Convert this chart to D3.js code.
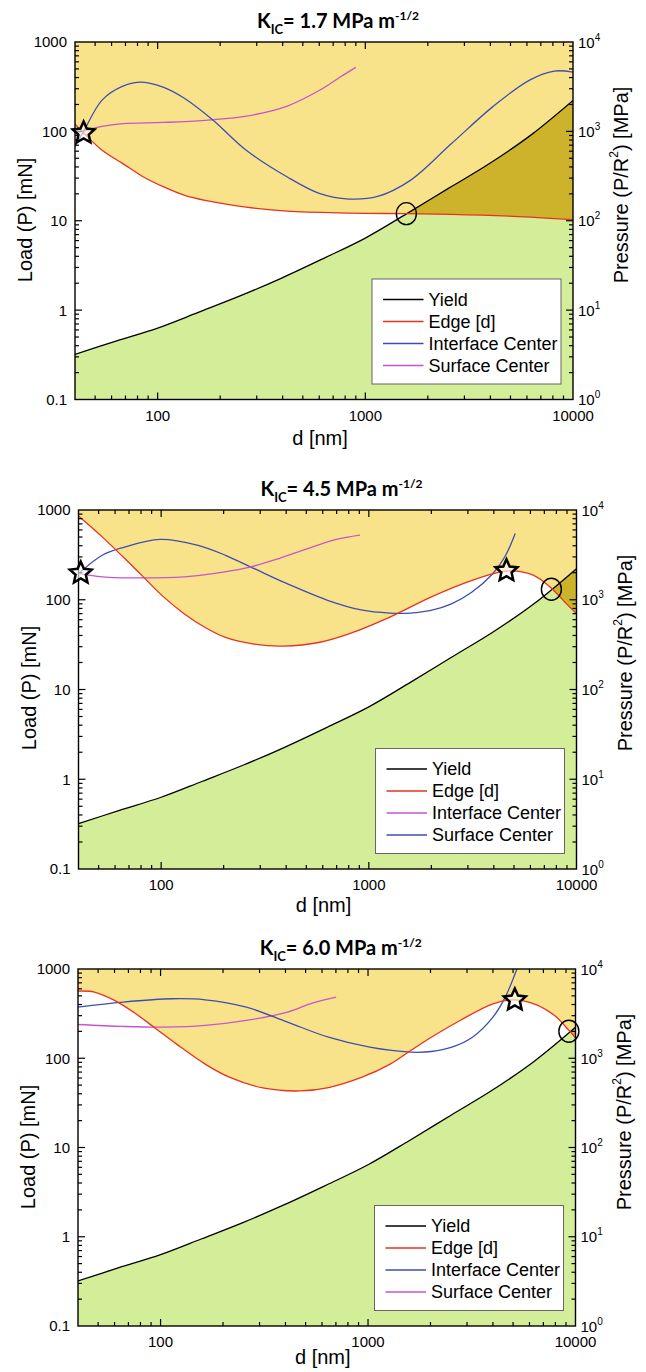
<!DOCTYPE html>
<html>
<head>
<meta charset="utf-8">
<script src="https://cdn.jsdelivr.net/npm/d3@7"></script>
<style>
  html, body { margin: 0; padding: 0; background: #fff; }
  svg { display: block; }
</style>
</head>
<body>
<svg id="chart" width="646" height="1372"></svg>
<script>
// ---- data -------------------------------------------------------------
const kicValues = ["1.7", "4.5", "6.0"];

// axis ticks
const loadTicks = [0.1, 1, 10, 100, 1000];
const loadTickLabels = ["0.1", "1", "10", "100", "1000"];
const pressureTicks = [1, 10, 100, 1000, 10000];
const pressureExponents = ["0", "1", "2", "3", "4"];
const dTicks = [100, 1000, 10000];
const dTickLabels = ["100", "1000", "10000"];

// yield load, identical in every panel
const yieldD = [40, 63, 100, 158, 251, 398, 631, 1000, 1585, 2512, 3981, 6310, 10000];
const yieldP = [0.32, 0.45, 0.63, 0.95, 1.45, 2.3, 3.8, 6.4, 12, 23, 44, 92, 222];

// K_IC = 1.7
const p1EdgeD = [40, 44, 54, 68, 85.5, 107, 135, 169, 267, 421, 833, 1576, 2600, 5140, 10000];
const p1EdgeP = [120, 96, 61.5, 43.6, 30.9, 23.9, 19.2, 16.9, 14.2, 12.8, 12.2, 12.0, 11.8, 11.2, 10.3];
const p1InterfaceD = [40, 44, 54, 68, 84, 107, 135, 185, 267, 421, 605, 833, 1146, 1648, 2600, 4100, 6180, 8110, 10000];
const p1InterfaceP = [68, 100, 224, 321, 356, 310, 233, 133, 61.5, 30.9, 20.1, 17.5, 18.7, 28.3, 73, 188, 375, 473, 461];
const p1SurfaceD = [40, 54, 68, 107, 169, 267, 421, 605, 760, 900];
const p1SurfaceP = [95, 114, 122, 126, 133, 148, 192, 290, 408, 520];
const p1StarD = [44];
const p1StarP = [96];
const p1CircleD = [1576];
const p1CircleP = [12];

// K_IC = 4.5
const p2EdgeD = [40, 52, 65.5, 82, 103, 129, 163, 204, 281, 387, 582, 801, 1263, 1991, 3140, 4320, 4960, 6220, 7460, 8950, 10000];
const p2EdgeP = [857, 502, 301, 180, 107, 70, 49, 38, 32, 30.5, 33.6, 41.6, 64, 107, 164, 204, 210, 187, 139, 90, 70];
const p2InterfaceD = [40.5, 52, 82, 129, 178, 257, 369, 508, 698, 906];
const p2InterfaceP = [196, 180, 175, 180, 195, 226, 288, 372, 470, 525];
const p2SurfaceD = [40.5, 52, 65.5, 99, 149, 204, 281, 404, 638, 919, 1263, 1585, 1991, 2500, 3140, 3950, 4520, 5070];
const p2SurfaceP = [200, 313, 382, 470, 406, 313, 222, 151, 98, 77, 71, 71, 76, 90, 122, 195, 301, 548];
const p2StarD = [41, 4600];
const p2StarP = [198, 210];
const p2CircleD = [7570];
const p2CircleP = [131];

// K_IC = 6.0
const p3EdgeD = [40, 48, 60, 76, 95, 119, 164, 216, 311, 469, 645, 929, 1279, 1607, 2018, 2778, 4000, 5020, 6310, 7930, 9300, 10000];
const p3EdgeP = [566, 552, 445, 315, 214, 145, 86, 61, 46.5, 43, 47, 61, 86, 122, 172, 265, 407, 452, 407, 301, 205, 169];
const p3InterfaceD = [40, 66, 114, 164, 259, 409, 645, 1019, 1607, 2018, 2535, 3185, 4000, 4585, 5260];
const p3InterfaceP = [374, 426, 464, 452, 374, 254, 172, 133, 117, 119, 133, 172, 289, 484, 1050];
const p3SurfaceD = [40, 66, 104, 164, 259, 409, 538, 702];
const p3SurfaceP = [239, 227, 223, 233, 265, 329, 415, 484];
const p3StarD = [5100];
const p3StarP = [450];
const p3CircleD = [9290];
const p3CircleP = [201];

// ---- styling ----------------------------------------------------------
const RED = "#e8321e";
const BLUE = "#3f4db3";
const MAGENTA = "#c654d0";
const YELLOW = "#f9e38a";
const GREEN = "#d3ed98";
const OLIVE = "#cdb22b";

// pick an installed Helvetica-style face by its metrics
function pickFont(candidates, sample, targetEm) {
  const ctx = document.createElement("canvas").getContext("2d");
  for (const f of candidates) {
    ctx.font = `100px "${f}", monospace`;
    const w = ctx.measureText(sample).width / 100;
    if (Math.abs(w - targetEm) < 0.08) return `"${f}"`;
  }
  return "sans-serif";
}
const SANS = pickFont(["Liberation Sans", "Arial", "Arimo", "Helvetica"], "Interface Center", 7.17);
const BOLD = `Lato, "Open Sans", sans-serif`;

const zip = (a, b) => a.map((v, i) => [v, b[i]]);

const panels = [
  { kic: kicValues[0], box: { l: 75, r: 573, t: 42, b: 399.5 }, xLabelGap: 45,
    edge: zip(p1EdgeD, p1EdgeP), iface: zip(p1InterfaceD, p1InterfaceP), surf: zip(p1SurfaceD, p1SurfaceP),
    ifaceColor: BLUE, surfColor: MAGENTA,
    stars: zip(p1StarD, p1StarP), circles: zip(p1CircleD, p1CircleP) },
  { kic: kicValues[1], box: { l: 78.5, r: 576.5, t: 510, b: 869 }, xLabelGap: 43,
    edge: zip(p2EdgeD, p2EdgeP), iface: zip(p2InterfaceD, p2InterfaceP), surf: zip(p2SurfaceD, p2SurfaceP),
    ifaceColor: MAGENTA, surfColor: BLUE,
    stars: zip(p2StarD, p2StarP), circles: zip(p2CircleD, p2CircleP) },
  { kic: kicValues[2], box: { l: 78, r: 575.5, t: 969, b: 1326 }, xLabelGap: 38,
    edge: zip(p3EdgeD, p3EdgeP), iface: zip(p3InterfaceD, p3InterfaceP), surf: zip(p3SurfaceD, p3SurfaceP),
    ifaceColor: BLUE, surfColor: MAGENTA,
    stars: zip(p3StarD, p3StarP), circles: zip(p3CircleD, p3CircleP) }
];

const yieldPts = zip(yieldD, yieldP);
const svg = d3.select("#chart").style("font-family", SANS);
const smooth = d3.curveCatmullRom.alpha(0.5);

// five-pointed star outline centred on (0,0)
function starPath(R, ratio) {
  const pts = [];
  for (let k = 0; k < 10; k++) {
    const r = k % 2 === 0 ? R : R * ratio;
    const a = -Math.PI / 2 + k * Math.PI / 5;
    pts.push([r * Math.cos(a), r * Math.sin(a)]);
  }
  return "M" + pts.map(p => p[0].toFixed(2) + "," + p[1].toFixed(2)).join("L") + "Z";
}

panels.forEach((pn, i) => {
  const { l, r, t, b } = pn.box;
  const x = d3.scaleLog().domain([40, 10000]).range([l, r]);
  const y = d3.scaleLog().domain([0.1, 1000]).range([b, t]);
  const yR = d3.scaleLog().domain([1, 10000]).range([b, t]);
  const g = svg.append("g");
  const defs = g.append("defs");

  defs.append("clipPath").attr("id", "plot" + i)
    .append("rect").attr("x", l).attr("y", t).attr("width", r - l).attr("height", b - t);

  const aboveEdge = d3.area().curve(smooth)
    .x(d => x(d[0])).y0(d => y(d[1])).y1(t - 50);
  const belowYield = d3.area().curve(smooth)
    .x(d => x(d[0])).y0(b + 50).y1(d => y(d[1]));
  const line = d3.line().curve(smooth)
    .x(d => x(d[0])).y(d => y(d[1]));

  defs.append("clipPath").attr("id", "yieldBelow" + i)
    .append("path").attr("d", belowYield(yieldPts));

  const plot = g.append("g").attr("clip-path", `url(#plot${i})`);
  plot.append("path").attr("d", aboveEdge(pn.edge)).attr("fill", YELLOW);
  plot.append("path").attr("d", belowYield(yieldPts)).attr("fill", GREEN);
  // overlap of the two regions
  plot.append("path").attr("d", aboveEdge(pn.edge)).attr("fill", OLIVE)
    .attr("clip-path", `url(#yieldBelow${i})`);

  const lw = 1.3;
  plot.append("path").attr("d", line(yieldPts)).attr("fill", "none").attr("stroke", "#000").attr("stroke-width", lw);
  plot.append("path").attr("d", line(pn.surf)).attr("fill", "none").attr("stroke", pn.surfColor).attr("stroke-width", lw);
  plot.append("path").attr("d", line(pn.iface)).attr("fill", "none").attr("stroke", pn.ifaceColor).attr("stroke-width", lw);
  plot.append("path").attr("d", line(pn.edge)).attr("fill", "none").attr("stroke", RED).attr("stroke-width", lw);

  // frame and inward ticks
  const axes = g.append("g").attr("stroke", "#000").attr("stroke-width", 1.2);
  const isMajor = v => Math.abs(Math.log10(v) - Math.round(Math.log10(v))) < 1e-9;
  x.ticks().filter(v => v > 40 && v < 10000).forEach(v => {
    const len = isMajor(v) ? 7 : 4;
    const px = x(v);
    axes.append("line").attr("x1", px).attr("x2", px).attr("y1", b).attr("y2", b - len);
    axes.append("line").attr("x1", px).attr("x2", px).attr("y1", t).attr("y2", t + len);
  });
  y.ticks().filter(v => v > 0.1 && v < 1000).forEach(v => {
    const len = isMajor(v) ? 7 : 4;
    const py = y(v);
    axes.append("line").attr("x1", l).attr("x2", l + len).attr("y1", py).attr("y2", py);
    axes.append("line").attr("x1", r).attr("x2", r - len).attr("y1", py).attr("y2", py);
  });
  axes.append("rect").attr("x", l).attr("y", t).attr("width", r - l).attr("height", b - t)
    .attr("fill", "none").attr("stroke-width", 1.4);

  // tick labels
  loadTicks.forEach((v, k) => {
    g.append("text").attr("x", l - 8).attr("y", y(v)).attr("dy", "0.36em")
      .attr("text-anchor", "end").attr("font-size", 15).text(loadTickLabels[k]);
  });
  dTicks.forEach((v, k) => {
    g.append("text").attr("x", x(v)).attr("y", b + 21)
      .attr("text-anchor", "middle").attr("font-size", 15).text(dTickLabels[k]);
  });
  pressureTicks.forEach((v, k) => {
    const tx = g.append("text").attr("x", r + 5).attr("y", yR(v) + 5.5).attr("font-size", 15);
    tx.append("tspan").text("10");
    tx.append("tspan").attr("dy", -7).attr("font-size", 10).text(pressureExponents[k]);
  });

  // axis titles
  g.append("text").attr("x", (l + r) / 2 - 4).attr("y", b + pn.xLabelGap)
    .attr("text-anchor", "middle").attr("font-size", 20).text("d [nm]");
  g.append("text").attr("transform", `translate(${l - 50},${t + 178}) rotate(-90)`)
    .attr("text-anchor", "middle").attr("dominant-baseline", "central")
    .attr("font-size", 20).text("Load (P) [mN]");
  const rt = g.append("text").attr("transform", `translate(${r + 48},${t + 143}) rotate(-90)`)
    .attr("text-anchor", "middle").attr("dominant-baseline", "central").attr("font-size", 20);
  rt.append("tspan").text("Pressure (P/R");
  rt.append("tspan").attr("dy", -7).attr("font-size", 12).text("2");
  rt.append("tspan").attr("dy", 7).text(") [MPa]");

  // panel title
  const tt = g.append("text").attr("x", (l + r) / 2 + 14).attr("y", t - 14.5)
    .attr("text-anchor", "middle").attr("font-size", 20)
    .style("font-family", BOLD).attr("font-weight", 700);
  tt.append("tspan").text("K");
  tt.append("tspan").attr("dy", 6).attr("font-size", 13).text("IC");
  tt.append("tspan").attr("dy", -6).text("= " + pn.kic + " MPa m");
  tt.append("tspan").attr("dy", -8).attr("font-size", 12).text("-1/2");

  // markers
  pn.circles.forEach(c => {
    g.append("ellipse").attr("cx", x(c[0])).attr("cy", y(c[1])).attr("rx", 10).attr("ry", 11)
      .attr("fill", "none").attr("stroke", "#000").attr("stroke-width", 1.4);
  });
  pn.stars.forEach(s => {
    g.append("path").attr("d", starPath(11.5, 0.47))
      .attr("transform", `translate(${x(s[0])},${y(s[1])})`)
      .attr("fill", "rgba(255,255,255,0.6)").attr("stroke", "#000")
      .attr("stroke-width", 2.5).attr("stroke-linejoin", "miter");
  });

  // legend
  const lgW = 189, lgH = 105;
  const lx = r - 12 - lgW, ly = b - 15.5 - lgH;
  const lg = g.append("g");
  lg.append("rect").attr("x", lx).attr("y", ly).attr("width", lgW).attr("height", lgH)
    .attr("fill", "#fff").attr("stroke", "#666").attr("stroke-width", 1);
  const entries = [["Yield", "#000"], ["Edge [d]", RED], ["Interface Center", pn.ifaceColor], ["Surface Center", pn.surfColor]];
  entries.forEach((e, k) => {
    const ry = ly + 20.5 + k * 22;
    lg.append("line").attr("x1", lx + 11).attr("x2", lx + 51.5).attr("y1", ry).attr("y2", ry)
      .attr("stroke", e[1]).attr("stroke-width", 1.5);
    lg.append("text").attr("x", lx + 56.5).attr("y", ry).attr("dy", "0.36em")
      .attr("font-size", 18).text(e[0]);
  });
});
</script>
</body>
</html>
